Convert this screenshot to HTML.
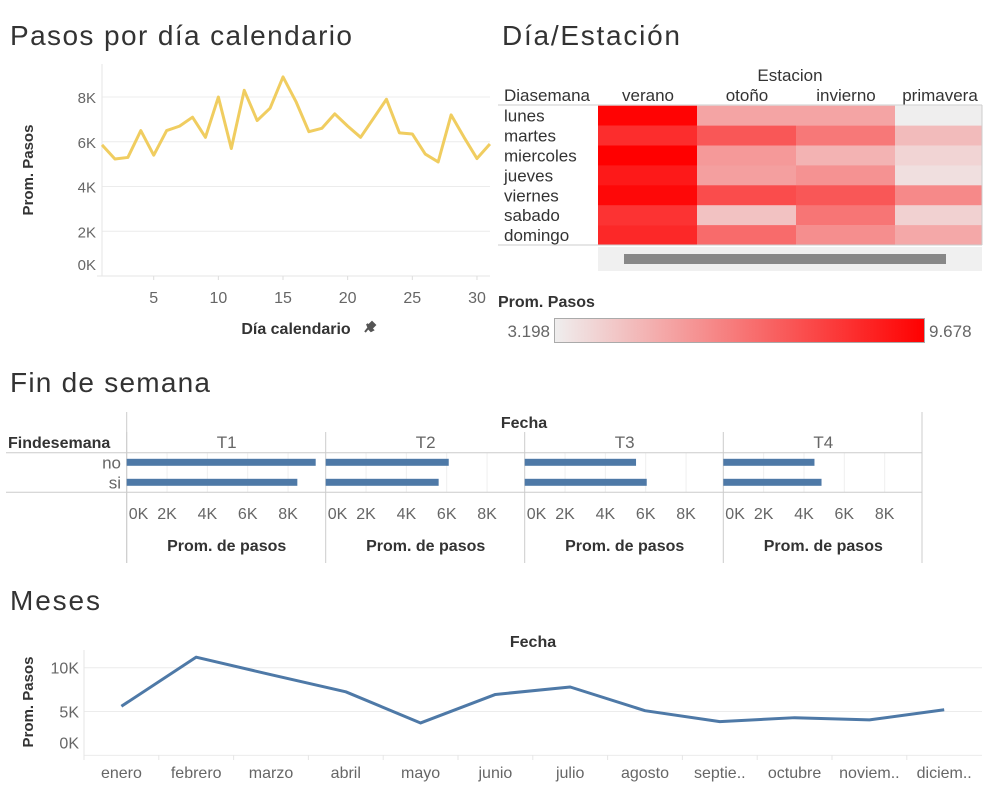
<!DOCTYPE html>
<html><head><meta charset="utf-8"><style>
body{margin:0;background:#fff;font-family:"Liberation Sans",sans-serif;}
svg{display:block}
text{font-family:"Liberation Sans",sans-serif}
.tt{font-size:28px;fill:#333}
.tk{font-size:15px;fill:#666}
.lb{font-size:15px;fill:#333;font-weight:bold}
.hm{font-size:17px;fill:#333}
</style></head><body>
<svg id="root" width="990" height="787" viewBox="0 0 990 787">
<text class="tt" x="10" y="45" textLength="342">Pasos por día calendario</text>
<text class="tt" x="502" y="45" textLength="178">Día/Estación</text>
<text class="tt" x="10" y="392" textLength="200">Fin de semana</text>
<text class="tt" x="10" y="610" textLength="90">Meses</text>
<g id="daily"></g>
<g id="heat"></g>
<g id="bars"></g>
<g id="months"></g>
</svg>
<script>
const NS="http://www.w3.org/2000/svg";
function mk(p,tag,a,txt){const e=document.createElementNS(NS,tag);for(const k in a)e.setAttribute(k,a[k]);if(txt!==undefined)e.textContent=txt;p.appendChild(e);return e;}

// ---- daily data ----
const days=[1,2,3,4,5,6,7,8,9,10,11,12,13,14,15,16,17,18,19,20,21,22,23,24,25,26,27,28,29,30,31];
const dailySteps=[5.86,5.23,5.3,6.5,5.4,6.5,6.7,7.1,6.2,8.0,5.7,8.3,6.95,7.5,8.9,7.8,6.45,6.6,7.25,6.7,6.2,7.05,7.9,6.4,6.35,5.45,5.1,7.2,6.2,5.25,5.9];
const dailyYTicks=[0,2,4,6,8];
const dailyXTicks=[5,10,15,20,25,30];

// ---- heatmap data ----
const weekdays=["lunes","martes","miercoles","jueves","viernes","sabado","domingo"];
const seasons=["verano","otoño","invierno","primavera"];
const heatValues=[
 [9.6,5.2,5.2,3.2],
 [8.45,7.3,6.4,4.6],
 [9.68,5.5,4.8,3.9],
 [9.0,5.35,5.7,3.6],
 [9.45,7.6,7.3,5.95],
 [8.3,4.4,6.5,4.0],
 [8.6,6.76,5.8,5.1]];
const heatMin=3.198, heatMax=9.678;

// ---- weekend bars ----
const quarters=["T1","T2","T3","T4"];
const weekendCats=["no","si"];
const weekendNo=[9.37,6.1,5.52,4.52];
const weekendSi=[8.46,5.6,6.05,4.87];
const barTicks=[0,2,4,6,8];

// ---- months ----
const monthLabels=["enero","febrero","marzo","abril","mayo","junio","julio","agosto","septie..","octubre","noviem..","diciem.."];
const monthSteps=[5.6,11.2,9.2,7.25,3.7,6.95,7.8,5.1,3.85,4.3,4.05,5.2];
const monthYTicks=[0,5,10];

// ===== daily line =====
(function(){
 const g=document.getElementById('daily');
 const x=d=>102+(d-1)*12.93, y=v=>276-v*22.37;
 dailyYTicks.forEach(t=>{
  if(t>0){const l=mk(g,'line',{x1:102,x2:490,y1:y(t),y2:y(t),stroke:'#ececec'});}
  const ty=t===0?y(t)-6:y(t)+6;
  const tx=mk(g,'text',{x:96,y:ty,'text-anchor':'end',class:'tk'},t+'K');
  
 });
 mk(g,'line',{x1:102,x2:102,y1:64,y2:276,stroke:'#e6e6e6'});
 mk(g,'line',{x1:97,x2:490,y1:276,y2:276,stroke:'#e6e6e6'});
 dailyXTicks.forEach(t=>{
  mk(g,'line',{x1:x(t),x2:x(t),y1:276,y2:280,stroke:'#ddd'});
  const tx=mk(g,'text',{x:x(t),y:303,'text-anchor':'middle',class:'tk',style:'font-size:16px'},t);
  
 });
 const pts=days.map((d,i)=>x(d)+','+y(dailySteps[i])).join(' ');
 const pl=mk(g,'polyline',{points:pts,fill:'none',stroke:'#f0cd60','stroke-width':3,'stroke-linejoin':'round'});
 
 const yt=mk(g,'text',{transform:'translate(33,170) rotate(-90)','text-anchor':'middle',class:'lb'},'Prom. Pasos');
 
 const xt=mk(g,'text',{x:296,y:334,'text-anchor':'middle',class:'lb',style:'font-size:16px'},'Día calendario');
 
 const pin=mk(g,'path',{d:'M365 332 L369 327 M367 324 L373 330 L371 331 L369 329 Z M369 325 L372 322 L375 325 L372 328',stroke:'#555','stroke-width':2,fill:'#555'});
 
})();

// ===== heatmap =====
(function(){
 const g=document.getElementById('heat');
 const colX=[598,697,796,895], colW=[99,99,99,87], y0=105.7, rh=19.9;
 function col(v){const t=Math.max(0,Math.min(1,(v-heatMin)/(heatMax-heatMin)));
  const r=Math.round(239+16*t), gg=Math.round(238*(1-t)), b=Math.round(238*(1-t));return `rgb(${r},${gg},${b})`;}
 const et=mk(g,'text',{x:790,y:81,'text-anchor':'middle',class:'hm'},'Estacion');
 
 const dt=mk(g,'text',{x:504,y:101,class:'hm'},'Diasemana');
 
 seasons.forEach((s,j)=>{
  const t=mk(g,'text',{x:[648,747,846,940][j],y:101,'text-anchor':'middle',class:'hm'},s);
  
 });
 weekdays.forEach((d,i)=>{
  const t=mk(g,'text',{x:504,y:y0+i*rh+16,class:'hm'},d);
  
  seasons.forEach((s,j)=>{
   const r=mk(g,'rect',{x:colX[j],y:y0+i*rh,width:colW[j],height:rh+0.3,fill:col(heatValues[i][j])});
   
  });
 });
 mk(g,'line',{x1:498,x2:982,y1:105,y2:105,stroke:'#ccc'});
 mk(g,'line',{x1:498,x2:982,y1:245,y2:245,stroke:'#ccc'});
 mk(g,'line',{x1:982,x2:982,y1:105,y2:245,stroke:'#ccc'});
 const sb=mk(g,'rect',{x:598,y:247,width:384,height:24,fill:'#f0f0f0'});
 
 const th=mk(g,'rect',{x:624,y:254,width:322,height:10,fill:'#888'});
 
 const lt=mk(g,'text',{x:498,y:307,class:'lb',style:'font-size:16px'},'Prom. Pasos');
 
 const defs=mk(g,'defs',{});const lg=mk(defs,'linearGradient',{id:'lg'});
 mk(lg,'stop',{offset:'0','stop-color':col(heatMin)});
 mk(lg,'stop',{offset:'0.5','stop-color':col((heatMin+heatMax)/2)});
 mk(lg,'stop',{offset:'1','stop-color':col(heatMax)});
 const lr=mk(g,'rect',{x:554.5,y:318.5,width:370,height:24,fill:'url(#lg)',stroke:'#aaa'});
 
 const l1=mk(g,'text',{x:550,y:337,'text-anchor':'end',class:'tk',style:'font-size:17px'},String(heatMin));
 
 const l2=mk(g,'text',{x:929,y:337,class:'tk',style:'font-size:17px'},String(heatMax));
 
})();

// ===== weekend bars =====
(function(){
 const g=document.getElementById('bars');
 const px=[126.7,325.7,524.7,723.3], k=20.17;
 const rowY=[462.3,482.3];
 const ft=mk(g,'text',{x:524,y:428,'text-anchor':'middle',class:'lb',style:'font-size:16px'},'Fecha');
 
 const fd=mk(g,'text',{x:8,y:448,class:'lb',style:'font-size:16px'},'Findesemana');
 
 weekendCats.forEach((c,i)=>{
  const t=mk(g,'text',{x:121,y:rowY[i]+6,'text-anchor':'end',class:'tk',style:'font-size:17px'},c);
  
 });
 mk(g,'line',{x1:126.7,x2:126.7,y1:412,y2:563,stroke:'#ccc'});
 quarters.forEach((q,j)=>{
  const x0=px[j], x=v=>x0+v*k;
  barTicks.forEach(t=>{
   if(t>0)mk(g,'line',{x1:x(t),x2:x(t),y1:453,y2:492,stroke:'#efefef'});
   const tx=mk(g,'text',{x:t===0?x0+2:x(t),y:519,'text-anchor':t===0?'start':'middle',class:'tk',style:'font-size:16px'},t+'K');
   
  });
  mk(g,'line',{x1:x0,x2:x0,y1:432,y2:563,stroke:'#ccc'});
  const qt=mk(g,'text',{x:x0+100,y:448,'text-anchor':'middle',class:'tk',style:'font-size:17px'},q);
  
  const at=mk(g,'text',{x:x0+100,y:551,'text-anchor':'middle',class:'lb',style:'font-size:16px'},'Prom. de pasos');
  
  [weekendNo[j],weekendSi[j]].forEach((v,i)=>{
   const b=mk(g,'rect',{x:x0,y:rowY[i]-3.5,width:v*k,height:7,fill:'#4e79a7'});
   
  });
 });
 mk(g,'line',{x1:922,x2:922,y1:412,y2:563,stroke:'#ccc'});
 mk(g,'line',{x1:6,x2:922,y1:452.7,y2:452.7,stroke:'#ccc'});
 mk(g,'line',{x1:6,x2:922,y1:492.3,y2:492.3,stroke:'#ccc'});
})();

// ===== months =====
(function(){
 const g=document.getElementById('months');
 const bw=74.8, x=i=>84+bw*(i+0.5), y=v=>755.4-v*8.77;
 const ft=mk(g,'text',{x:533,y:647,'text-anchor':'middle',class:'lb',style:'font-size:16px'},'Fecha');
 
 monthYTicks.forEach(t=>{
  mk(g,'line',{x1:84,x2:982,y1:y(t),y2:y(t),stroke:'#ececec'});
  const ty=t===0?y(t)-7:y(t)+6;
  const tx=mk(g,'text',{x:79,y:ty,'text-anchor':'end',class:'tk',style:'font-size:16px'},t+'K');
  
 });
 mk(g,'line',{x1:84,x2:84,y1:650,y2:758,stroke:'#e6e6e6'});
 monthLabels.forEach((m,i)=>{
  mk(g,'line',{x1:84+bw*i,x2:84+bw*i,y1:755,y2:760,stroke:'#e6e6e6'});
  const t=mk(g,'text',{x:x(i),y:778,'text-anchor':'middle',class:'tk',style:'font-size:16px'},m);
  
 });
 const pts=monthSteps.map((v,i)=>x(i)+','+y(v)).join(' ');
 const pl=mk(g,'polyline',{points:pts,fill:'none',stroke:'#4e79a7','stroke-width':3,'stroke-linejoin':'round'});
 
 const yt=mk(g,'text',{transform:'translate(33,702) rotate(-90)','text-anchor':'middle',class:'lb'},'Prom. Pasos');
 
})();
</script>
</body></html>
